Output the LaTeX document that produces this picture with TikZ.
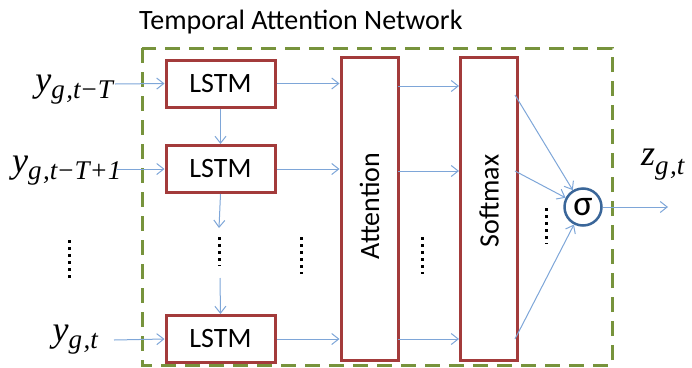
\documentclass[tikz,border=0pt]{standalone}
\usepackage{fontspec}
\setmainfont{Carlito}
\newfontfamily\mathserif{Liberation Serif}
\usetikzlibrary{arrows.meta}
\definecolor{boxred}{HTML}{A33B3B}
\definecolor{dashgreen}{HTML}{77933C}
\definecolor{arrblue}{HTML}{7EA6D8}
\definecolor{sigblue}{HTML}{3A6699}
\newcommand\myvar[3]{{\mathserif\itshape\fontsize{36}{36}\selectfont #1\raisebox{-#3}{\fontsize{27}{27}\selectfont #2}}}
\newcommand\mminus{\kern1pt{\upshape −}\kern1pt}
\tikzset{
  lstm/.style={draw=boxred, line width=3pt, fill=white, minimum width=109pt, minimum height=47pt, inner sep=0pt, font=\fontsize{28}{28}\selectfont},
  tall/.style={draw=boxred, line width=3pt, fill=white, minimum width=57pt, minimum height=303pt, inner sep=0pt},
  vlabel/.style={rotate=90, inner sep=0pt, font=\fontsize{28}{28}\selectfont},
  arr/.style={draw=arrblue, line width=1pt, -{Straight Barb[length=7pt,width=11pt]}},
  dotcol/.style={draw=black, line width=3pt, dash pattern=on 3pt off 4pt},
  frame/.style={draw=dashgreen, line width=3pt, dash pattern=on 15pt off 9pt},
  lbl/.style={inner sep=0pt},
  sigma/.style={circle, draw=sigblue, line width=2.5pt, fill=white, minimum size=37pt, inner sep=0pt, font=\fontsize{36}{36}\selectfont}
}
\begin{document}
\begin{tikzpicture}[x=1pt,y=-1pt]
\useasboundingbox (0,0) rectangle (692,367);
% frame
\draw[frame] (142,48) rectangle (612,365);
\node[lbl, anchor=west, font=\fontsize{28}{28}\selectfont] (title) at (139,22) {Temporal Attention Network};
% LSTM
\node[lstm] (l1) at (220.5,83.5) {LSTM};
\node[lstm] (l2) at (220.5,169) {LSTM};
\node[lstm] (l3) at (220.5,339) {LSTM};
% tall boxes
\node[tall] (att) at (369.5,208.5) {};
\node[vlabel] (attl) at (369.5,206) {Attention};
\node[tall] (soft) at (489,208.5) {};
\node[vlabel] (softl) at (489,201) {Softmax};
% sigma
\node[sigma] (sig) at (583,207) {σ};
% inputs
\node[lbl, anchor=base east] (x1) at (113,91) {\myvar{y}{g\kern1.5pt,t\mminus T}{7pt}};
\node[lbl, anchor=base west] (x2) at (12,172) {\myvar{y}{g\kern1.5pt,t\mminus T+1}{7pt}};
\node[lbl, anchor=base east] (x3) at (98,341) {\myvar{y}{g\kern1.5pt,t}{7pt}};
\node[lbl, anchor=base west] (z) at (641,165) {\myvar{z}{g\kern1.5pt,t}{9pt}};
\coordinate (i1) at (115,84);
\coordinate (i2) at (117,169);
\coordinate (i3) at (114,340);
\draw[arr] (i1) -- (l1.west);
\draw[arr] (i2) -- (l2.west);
\draw[arr] (i3) -- (l3.west);
% chain
\coordinate (c1) at (219,228);
\coordinate (c2) at (220,278);
\draw[arr] (l1.south) -- (l2.north);
\draw[arr] (l2.south) -- (c1);
\draw[arr] (c2) -- (l3.north);
% LSTM -> attention
\draw[arr] (l1.east) -- (l1.east -| att.west);
\draw[arr] (l2.east) -- (l2.east -| att.west);
\draw[arr] (l3.east) -- (l3.east -| att.west);
% attention -> softmax
\coordinate (a1) at (398,86);
\coordinate (a2) at (398,171);
\coordinate (a3) at (398,339);
\draw[arr] (a1) -- (a1 -| soft.west);
\draw[arr] (a2) -- (a2 -| soft.west);
\draw[arr] (a3) -- (a3 -| soft.west);
% softmax -> sigma
\coordinate (s1) at (515,95);
\coordinate (s2) at (515,171);
\coordinate (s3) at (515,339);
\draw[arr] (s1) -- (sig);
\draw[arr] (s2) -- (sig);
\draw[arr] (s3) -- (sig);
% output
\coordinate (out) at (668,207);
\draw[arr] (sig.east) -- (out);
% dots
\draw[dotcol] (69,240) -- (69,278);
\draw[dotcol] (219,237) -- (219,266);
\draw[dotcol] (301,237) -- (301,274);
\draw[dotcol] (422,237) -- (422,274);
\draw[dotcol] (546,208) -- (546,244);
\end{tikzpicture}
\end{document}
